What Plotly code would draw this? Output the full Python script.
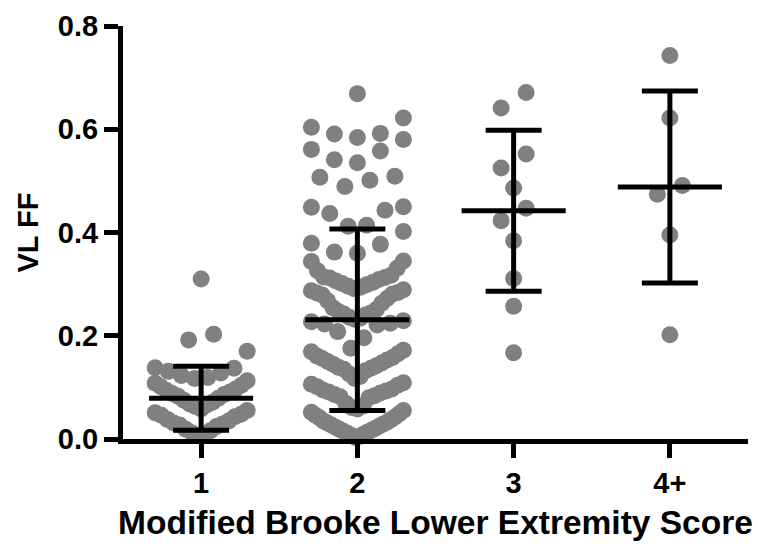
import plotly.graph_objects as go

# ---------------- data ----------------
categories = [1, 2, 3, 4]
tick_labels = ["1", "2", "3", "4+"]

group1 = [0.310, 0.203, 0.192, 0.170, 0.138, 0.137, 0.131, 0.128, 0.123, 0.119,
          0.117, 0.113, 0.108, 0.104, 0.101, 0.097, 0.094, 0.091, 0.088, 0.086,
          0.083, 0.079, 0.075, 0.071, 0.068, 0.066, 0.063, 0.058, 0.055, 0.051,
          0.048, 0.046, 0.043, 0.038, 0.035, 0.031, 0.029, 0.027, 0.024, 0.019,
          0.016, 0.012, 0.009, 0.007]

group2 = [0.669, 0.622, 0.604, 0.592, 0.591, 0.584, 0.580, 0.561, 0.558, 0.541,
          0.535, 0.509, 0.507, 0.501, 0.489, 0.450, 0.449, 0.443, 0.437, 0.414,
          0.412, 0.402, 0.379, 0.377, 0.362, 0.360, 0.345, 0.344, 0.331, 0.326,
          0.314, 0.312,
          0.279, 0.281, 0.283, 0.284, 0.287, 0.289, 0.291, 0.294, 0.296, 0.299,
          0.301, 0.303, 0.306, 0.309, 0.313, 0.317,
          0.263, 0.268, 0.272,
          0.221, 0.223, 0.224, 0.227, 0.229, 0.232, 0.234, 0.236, 0.240, 0.242,
          0.244, 0.247, 0.251, 0.254,
          0.208, 0.196,
          0.132, 0.135, 0.137, 0.139, 0.142, 0.145, 0.147, 0.150, 0.153, 0.156,
          0.158, 0.161, 0.165, 0.169, 0.172, 0.176,
          0.117, 0.121, 0.126,
          0.080, 0.082, 0.084, 0.086, 0.089, 0.091, 0.093, 0.095, 0.097, 0.101,
          0.104, 0.106, 0.109,
          0.064, 0.069,
          0.027, 0.029, 0.031, 0.033, 0.035, 0.038, 0.041, 0.043, 0.046, 0.049,
          0.052, 0.055, 0.058, 0.061,
          0.003, 0.005, 0.007, 0.009, 0.011, 0.013, 0.015, 0.017, 0.019, 0.021,
          0.023, 0.025]

group3 = [0.671, 0.641, 0.552, 0.525, 0.486, 0.447, 0.423, 0.384, 0.311, 0.257, 0.167]

group4 = [0.743, 0.622, 0.491, 0.474, 0.395, 0.202]

groups = [group1, group2, group3, group4]

# mean and SD
means = [0.079, 0.231, 0.442, 0.488]
sds = [0.062, 0.176, 0.156, 0.186]

# ---------------- layout constants ----------------
W, H = 758, 549
ML, MR, MT, MB = 123, 10, 20, 110
XR = [0.5, 4.5]
YR = [0.0, 0.8]
px_per_x = (W - ML - MR) / (XR[1] - XR[0])

FONT = "Liberation Sans, Arial, Helvetica, sans-serif"
DOT = "#808080"


def swarm_offsets(vals, bin_h=0.058, s_max=25.0, half_w=46.0):
    """Prism-like row arrangement: values binned into rows, sorted
    and spread center-outwards; returns offsets in pixels."""
    rows = {}
    for i, v in enumerate(vals):
        rows.setdefault(int(v // bin_h), []).append(i)
    off = [0.0] * len(vals)
    for idxs in rows.values():
        idxs.sort(key=lambda i: vals[i])
        n = len(idxs)
        s = s_max if n <= 1 else min(s_max, 2 * half_w / (n - 1))
        slots = []
        k = 0.0 if n % 2 == 1 else 0.5
        if n % 2 == 1:
            slots.append(0.0)
            k = 1.0
        while len(slots) < n:
            slots.append(-k * s)
            if len(slots) < n:
                slots.append(k * s)
            k += 1
        for j, i in enumerate(idxs):
            off[i] = slots[j]
    return off


fig = go.Figure()

for cat, vals in zip(categories, groups):
    offs = swarm_offsets(vals)
    xs = [cat + o / px_per_x for o in offs]
    fig.add_trace(go.Scatter(
        x=xs, y=vals, mode="markers",
        marker=dict(size=17, color=DOT, line=dict(width=0)),
        cliponaxis=False, hoverinfo="y", showlegend=False,
    ))

# mean (horizontal line) and SD (whiskers with caps)
fig.add_trace(go.Scatter(
    x=categories, y=means, mode="markers",
    marker=dict(size=1, color="rgba(0,0,0,0)"),
    error_x=dict(type="constant", value=0.333, width=0, thickness=5, color="black"),
    error_y=dict(type="data", array=sds, width=28, thickness=5, color="black"),
    cliponaxis=False, showlegend=False,
))

fig.update_layout(
    width=W, height=H,
    margin=dict(l=ML, r=MR, t=MT, b=MB, pad=0),
    plot_bgcolor="white", paper_bgcolor="white",
    font=dict(family=FONT, color="black"),
    showlegend=False,
)

fig.update_xaxes(
    range=XR, tickvals=categories, ticktext=tick_labels,
    showgrid=False, zeroline=False,
    showline=True, linewidth=5, linecolor="black",
    ticks="outside", ticklen=14, tickwidth=5, tickcolor="black",
    tickfont=dict(size=29, family=FONT, weight="bold"),
    title=dict(text="Modified Brooke Lower Extremity Score",
               font=dict(size=33.5, family=FONT, weight="bold"), standoff=14),
)
fig.update_yaxes(
    range=YR, tickvals=[0.0, 0.2, 0.4, 0.6, 0.8], tickformat=".1f",
    showgrid=False, zeroline=False,
    showline=True, linewidth=5, linecolor="black",
    ticks="outside", ticklen=14, tickwidth=5, tickcolor="black",
    tickfont=dict(size=29, family=FONT, weight="bold"),
    title=dict(text="VL FF", font=dict(size=29, family=FONT, weight="bold"), standoff=12),
)

fig.write_html("out.html")
